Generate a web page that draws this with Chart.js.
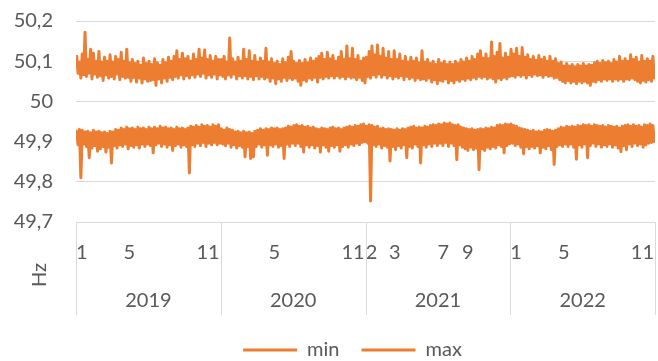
<!DOCTYPE html>
<html>
<head>
<meta charset="utf-8">
<script src="https://cdn.jsdelivr.net/npm/chart.js@4"></script>
<style>
  html, body { margin: 0; padding: 0; background: #fff; }
  #wrap { width: 658px; height: 361px; position: relative; }
</style>
</head>
<body>
<div id="wrap"><canvas id="chart"></canvas></div>
<script>
// Grid frequency extremes (Hz), two readings per week, one array per year
const years = ['2019', '2020', '2021', '2022'];

const maxHz2019 = [
  50.112,50.07,50.098,50.058,50.118,50.066,50.172,50.062,50.104,50.07,
  50.13,50.056,50.12,50.068,50.1,50.06,50.124,50.064,50.098,50.052,
  50.11,50.066,50.1,50.058,50.116,50.062,50.098,50.056,50.112,50.068,
  50.104,50.054,50.122,50.062,50.1,50.058,50.13,50.06,50.096,50.05,
  50.104,50.06,50.094,50.048,50.1,50.058,50.09,50.046,50.108,50.056,
  50.094,50.05,50.1,50.052,50.092,50.054,50.106,50.04,50.096,50.056,
  50.09,50.046,50.104,50.058,50.096,50.05,50.11,50.06,50.1,50.054,
  50.112,50.062,50.126,50.058,50.104,50.066,50.12,50.056,50.106,50.064,
  50.112,50.058,50.1,50.066,50.118,50.06,50.104,50.068,50.13,50.062,
  50.108,50.07,50.128,50.058,50.104,50.066,50.114,50.06,50.1,50.068,
  50.112,50.056,50.104,50.066];
const maxHz2020 = [
  50.104,50.062,50.112,50.056,50.098,50.066,50.158,50.06,50.106,50.068,
  50.098,50.056,50.11,50.064,50.1,50.058,50.13,50.064,50.104,50.056,
  50.126,50.062,50.1,50.054,50.114,50.064,50.098,50.056,50.108,50.062,
  50.1,50.056,50.132,50.06,50.098,50.05,50.106,50.058,50.094,50.044,
  50.1,50.056,50.092,50.05,50.106,50.06,50.096,50.052,50.11,50.058,
  50.124,50.054,50.1,50.058,50.094,50.05,50.102,50.04,50.094,50.054,
  50.104,50.05,50.096,50.058,50.108,50.054,50.1,50.06,50.106,50.048,
  50.112,50.06,50.12,50.056,50.104,50.062,50.122,50.058,50.106,50.064,
  50.114,50.058,50.1,50.064,50.11,50.058,50.124,50.062,50.104,50.056,
  50.138,50.062,50.106,50.058,50.132,50.06,50.104,50.054,50.114,50.06,
  50.1,50.052,50.108,50.046];
const maxHz2021 = [
  50.11,50.062,50.124,50.058,50.138,50.066,50.116,50.06,50.14,50.068,
  50.112,50.06,50.132,50.066,50.108,50.058,50.124,50.064,50.104,50.056,
  50.126,50.062,50.104,50.058,50.118,50.064,50.1,50.054,50.112,50.062,
  50.098,50.056,50.11,50.06,50.1,50.052,50.108,50.058,50.096,50.054,
  50.126,50.056,50.098,50.052,50.104,50.058,50.094,50.048,50.1,50.054,
  50.092,50.044,50.104,50.052,50.094,50.05,50.1,50.056,50.092,50.046,
  50.098,50.052,50.092,50.046,50.1,50.054,50.094,50.05,50.104,50.056,
  50.098,50.052,50.108,50.058,50.1,50.054,50.112,50.06,50.104,50.056,
  50.118,50.062,50.126,50.058,50.108,50.062,50.118,50.056,50.106,50.06,
  50.148,50.056,50.112,50.048,50.122,50.058,50.144,50.054,50.108,50.06,
  50.12,50.056,50.11,50.062];
const maxHz2022 = [
  50.13,50.064,50.118,50.06,50.132,50.066,50.112,50.062,50.134,50.066,
  50.11,50.058,50.116,50.066,50.104,50.062,50.112,50.068,50.102,50.064,
  50.114,50.066,50.104,50.06,50.11,50.066,50.1,50.062,50.112,50.064,
  50.1,50.058,50.106,50.06,50.094,50.054,50.098,50.05,50.088,50.046,
  50.094,50.052,50.088,50.046,50.092,50.05,50.086,50.044,50.092,50.05,
  50.088,50.046,50.094,50.05,50.088,50.046,50.092,50.04,50.09,50.05,
  50.096,50.048,50.1,50.054,50.094,50.05,50.102,50.056,50.096,50.052,
  50.1,50.056,50.094,50.05,50.104,50.056,50.098,50.052,50.112,50.056,
  50.1,50.05,50.106,50.056,50.1,50.054,50.116,50.058,50.104,50.054,
  50.11,50.05,50.098,50.046,50.114,50.052,50.1,50.048,50.106,50.054,
  50.1,50.05,50.112,50.058];

const minHz2019 = [
  49.926,49.892,49.93,49.81,49.928,49.894,49.924,49.888,49.926,49.86,
  49.922,49.884,49.928,49.89,49.924,49.876,49.926,49.882,49.922,49.888,
  49.924,49.874,49.92,49.886,49.926,49.847,49.924,49.89,49.93,49.884,
  49.928,49.892,49.934,49.888,49.93,49.894,49.936,49.882,49.932,49.89,
  49.934,49.886,49.93,49.892,49.936,49.884,49.932,49.894,49.934,49.888,
  49.93,49.894,49.936,49.89,49.932,49.872,49.936,49.892,49.932,49.896,
  49.938,49.888,49.934,49.894,49.936,49.886,49.932,49.892,49.934,49.878,
  49.93,49.89,49.936,49.894,49.932,49.886,49.934,49.892,49.93,49.888,
  49.934,49.822,49.938,49.892,49.936,49.888,49.94,49.896,49.936,49.89,
  49.942,49.898,49.938,49.888,49.94,49.896,49.936,49.892,49.942,49.898,
  49.938,49.892,49.942,49.896];
const minHz2020 = [
  49.932,49.894,49.928,49.89,49.934,49.896,49.93,49.886,49.928,49.892,
  49.924,49.884,49.926,49.89,49.922,49.886,49.926,49.862,49.922,49.888,
  49.924,49.858,49.92,49.862,49.926,49.888,49.928,49.894,49.932,49.886,
  49.928,49.892,49.932,49.866,49.93,49.892,49.934,49.888,49.932,49.894,
  49.934,49.886,49.93,49.89,49.932,49.858,49.934,49.894,49.938,49.888,
  49.936,49.896,49.94,49.89,49.942,49.896,49.938,49.888,49.94,49.874,
  49.936,49.892,49.938,49.886,49.934,49.892,49.936,49.884,49.932,49.89,
  49.93,49.874,49.934,49.892,49.932,49.886,49.93,49.876,49.934,49.89,
  49.936,49.886,49.932,49.892,49.934,49.876,49.93,49.888,49.934,49.892,
  49.936,49.886,49.938,49.894,49.936,49.89,49.94,49.896,49.938,49.892,
  49.942,49.898,49.944,49.9];
const minHz2021 = [
  49.938,49.896,49.942,49.752,49.94,49.892,49.936,49.888,49.938,49.894,
  49.932,49.884,49.934,49.89,49.93,49.886,49.932,49.852,49.93,49.888,
  49.928,49.88,49.932,49.89,49.928,49.884,49.932,49.892,49.93,49.86,
  49.934,49.888,49.936,49.884,49.938,49.894,49.934,49.888,49.936,49.847,
  49.934,49.892,49.938,49.886,49.936,49.894,49.94,49.888,49.942,49.896,
  49.94,49.89,49.944,49.896,49.942,49.89,49.946,49.898,49.944,49.888,
  49.946,49.896,49.942,49.89,49.94,49.855,49.942,49.892,49.936,49.886,
  49.934,49.882,49.932,49.878,49.93,49.886,49.932,49.88,49.928,49.884,
  49.93,49.83,49.932,49.882,49.93,49.878,49.934,49.886,49.932,49.882,
  49.936,49.888,49.934,49.884,49.94,49.892,49.942,49.888,49.94,49.872,
  49.944,49.89,49.942,49.894];
const minHz2022 = [
  49.944,49.896,49.94,49.89,49.938,49.894,49.934,49.886,49.932,49.87,
  49.93,49.888,49.928,49.882,49.926,49.888,49.928,49.884,49.924,49.89,
  49.926,49.872,49.924,49.886,49.928,49.882,49.93,49.89,49.928,49.88,
  49.926,49.843,49.928,49.888,49.932,49.892,49.936,49.888,49.934,49.894,
  49.938,49.888,49.936,49.894,49.938,49.886,49.936,49.856,49.94,49.892,
  49.938,49.886,49.942,49.894,49.94,49.86,49.942,49.89,49.938,49.896,
  49.942,49.888,49.94,49.894,49.938,49.886,49.94,49.892,49.936,49.888,
  49.94,49.894,49.938,49.886,49.936,49.892,49.938,49.884,49.934,49.875,
  49.938,49.89,49.94,49.88,49.942,49.894,49.938,49.888,49.942,49.896,
  49.938,49.89,49.94,49.894,49.936,49.886,49.942,49.892,49.94,49.896,
  49.944,49.898,49.94,49.9];

// Inner category row: month at which each label sits, and the label printed there
const monthTickAt = [[2019,1],[2019,5],[2019,11],[2020,5],[2020,11],
  [2021,1],[2021,3],[2021,7],[2021,9],[2022,1],[2022,5],[2022,11]];
const monthTickText = ['1','5','11','5','11','2','3','7','9','1','5','11'];

const seriesNames = ['min', 'max'];
const unitCaption = 'Hz';
const yMin = 49.7, yMax = 50.2, yStep = 0.1;

// ---- helpers ----------------------------------------------------------
const DAY = 86400000;
const T0 = Date.UTC(2019, 0, 1);
const dayOf = (y, m) => (Date.UTC(y, m - 1, 1) - T0) / DAY;
const yearStarts = years.map(y => dayOf(+y, 1)).concat(dayOf(+years[years.length - 1] + 1, 1));
const lastDay = yearStarts[yearStarts.length - 1];

// spread each year's readings evenly over that year (x in days since 1 Jan 2019)
const yearPoints = (arr, yi) => {
  const a = yearStarts[yi], len = yearStarts[yi + 1] - a;
  return arr.map((v, j) => ({ x: a + (j + 0.5) * len / arr.length, y: v }));
};
const toSeries = list => [].concat(...list.map(yearPoints));
const minSeries = toSeries([minHz2019, minHz2020, minHz2021, minHz2022]);
const maxSeries = toSeries([maxHz2019, maxHz2020, maxHz2021, maxHz2022]);

const ORANGE = '#ED7D31';
const TEXT = '#595959';
const GRID = '#D9D9D9';
const LEGEND_SHIFT = 25;
const PLOT_TOP = 21;

Chart.defaults.font.family = 'Lato';
Chart.defaults.font.size = 20;
Chart.defaults.color = TEXT;

// Year separators running through both category rows, plus the unit caption
const categoryFrame = {
  id: 'categoryFrame',
  afterLayout(chart) {
    const lg = chart.legend;
    if (lg) { lg.left += LEGEND_SHIFT; lg.right += LEGEND_SHIFT; }
  },
  afterDraw(chart) {
    const { ctx, chartArea } = chart;
    const x = chart.scales.x, x2 = chart.scales.x2;
    ctx.save();
    ctx.strokeStyle = GRID;
    ctx.lineWidth = 1;
    yearStarts.forEach(d => {
      const px = Math.round(x.getPixelForValue(d)) + 0.5;
      ctx.beginPath();
      ctx.moveTo(px, chartArea.bottom);
      ctx.lineTo(px, x2.bottom - 3);
      ctx.stroke();
    });
    ctx.fillStyle = TEXT;
    ctx.font = '20px Lato';
    ctx.textAlign = 'center';
    ctx.textBaseline = 'middle';
    ctx.translate(chartArea.left - 36, x.bottom - 9);
    ctx.rotate(-Math.PI / 2);
    ctx.fillText(unitCaption, 0, 0);
    ctx.restore();
  }
};

const noSidePadding = s => { s.paddingLeft = 0; s.paddingRight = 0; };

new Chart(document.getElementById('chart'), {
  type: 'line',
  data: {
    datasets: [
      { label: seriesNames[0], data: minSeries },
      { label: seriesNames[1], data: maxSeries }
    ].map(d => Object.assign(d, {
      borderColor: ORANGE,
      backgroundColor: ORANGE,
      borderWidth: 3,
      borderJoinStyle: 'round',
      borderCapStyle: 'round',
      pointRadius: 0,
      tension: 0,
      xAxisID: 'x',
      yAxisID: 'y'
    }))
  },
  options: {
    responsive: true,
    maintainAspectRatio: false,
    animation: false,
    layout: { padding: { left: 0, right: 3, top: 0, bottom: -9 } },
    scales: {
      y: {
        min: yMin, max: yMax,
        grid: { color: GRID, lineWidth: 1, drawTicks: false },
        border: { display: false },
        ticks: {
          stepSize: yStep,
          padding: 23,
          callback: v => String(Math.round(v * 10) / 10).replace('.', ',')
        },
        afterFit: s => { s.width = 76; s.paddingTop = PLOT_TOP; s.paddingBottom = 0; }
      },
      x: {
        type: 'linear',
        position: 'bottom',
        weight: 0,
        min: 0, max: lastDay,
        grid: { display: false, drawTicks: false },
        border: { display: false },
        afterBuildTicks: s => { s.ticks = monthTickAt.map(([y, m]) => ({ value: dayOf(y, m) })); },
        afterFit: noSidePadding,
        ticks: {
          autoSkip: false,
          maxRotation: 0,
          align: 'start',
          padding: 19,
          callback: (v, i) => monthTickText[i]
        }
      },
      x2: {
        type: 'category',
        position: 'bottom',
        weight: 1,
        labels: years,
        offset: true,
        grid: { display: false, drawTicks: false },
        border: { display: false },
        afterFit: noSidePadding,
        ticks: { padding: 5, maxRotation: 0, autoSkip: false }
      }
    },
    plugins: {
      legend: {
        position: 'bottom',
        labels: {
          usePointStyle: true,
          pointStyle: 'line',
          pointStyleWidth: 54,
          padding: 22,
          color: TEXT,
          font: { size: 20 }
        }
      },
      tooltip: { enabled: false }
    }
  },
  plugins: [categoryFrame]
});
</script>
</body>
</html>
